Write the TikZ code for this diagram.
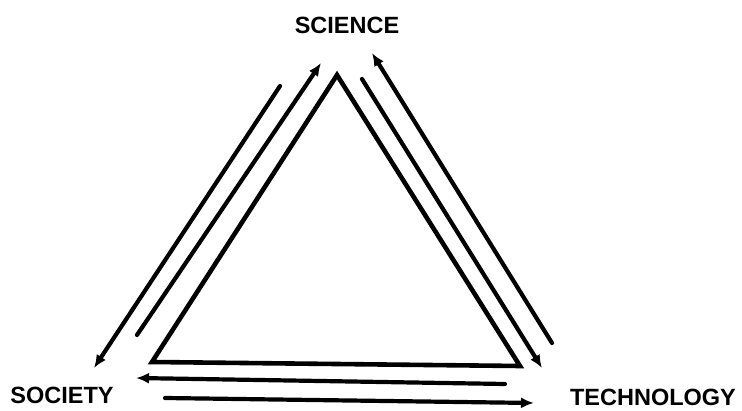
\documentclass[tikz,border=0pt]{standalone}
\usepackage{fontspec}
\setmainfont{Liberation Sans}
\usepackage{tikz}
\usetikzlibrary{arrows.meta, positioning}

\begin{document}
\begin{tikzpicture}[
    x=1pt, y=-1pt,
    font=\fontsize{23.5}{26}\selectfont\bfseries,
    >={Latex[length=13pt, width=11pt]},
    side/.style={line width=4.6pt, line join=miter},
    arrow/.style={->, line width=4.2pt, line cap=round},
    lbl/.style={inner sep=0pt, text=black}
]
\useasboundingbox (0,0) rectangle (742,411);

% Nodes
\node[lbl] (science) at (347,25) {SCIENCE};
\node[lbl] (society) at (62,395) {SOCIETY};
\node[lbl] (technology) at (653,397) {TECHNOLOGY};

% Triangle
\coordinate (top) at (337,75);
\coordinate (left) at (152,362);
\coordinate (right) at (520,366);
\draw[side] (top) -- (right) -- (left) -- cycle;

% Science <-> Society
\coordinate (a1) at (137,335);
\coordinate (a2) at (321,63);
\coordinate (b1) at (280,86);
\coordinate (b2) at (94,368);
\draw[arrow] (a1) -- (a2);
\draw[arrow] (b1) -- (b2);

% Science <-> Technology
\coordinate (c1) at (362,79);
\coordinate (c2) at (542,368);
\coordinate (d1) at (552,343);
\coordinate (d2) at (372,53);
\draw[arrow] (c1) -- (c2);
\draw[arrow] (d1) -- (d2);

% Society <-> Technology
\coordinate (e1) at (505,384);
\coordinate (e2) at (136,378);
\coordinate (f1) at (165,398);
\coordinate (f2) at (534,403);
\draw[arrow] (e1) -- (e2);
\draw[arrow] (f1) -- (f2);

\end{tikzpicture}
\end{document}
